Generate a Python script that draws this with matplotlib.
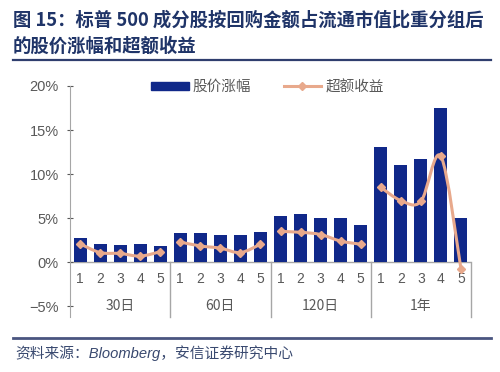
import numpy as np
import matplotlib
matplotlib.use("Agg")
import matplotlib.pyplot as plt
from matplotlib.path import Path
import matplotlib.patches as mpatches
from matplotlib.lines import Line2D

plt.rcParams['font.family'] = ['Liberation Sans', 'Noto Sans CJK SC', 'DejaVu Sans']

groups = ['30日', '60日', '120日', '1年']
sub_labels = ['1', '2', '3', '4', '5']
price_change = [2.7, 2.1, 2.0, 2.05, 1.9,
                3.3, 3.3, 3.05, 3.05, 3.45,
                5.2, 5.5, 5.0, 5.0, 4.25,
                13.1, 11.0, 11.75, 17.45, 5.0]
excess_return = [2.1, 1.1, 1.0, 0.7, 1.2,
                 2.3, 1.85, 1.6, 1.1, 2.05,
                 3.5, 3.4, 3.15, 2.4, 2.05,
                 8.5, 7.0, 6.9, 12.0, -0.75]
yticks = [-5, 0, 5, 10, 15, 20]

BAR_C = '#102889'
LINE_C = '#E8A98C'
TEXT_C = '#595959'
NAVY = '#1F3468'


def smooth_path(xs, ys, t=0.5):
    # catmull-rom style bezier through the points (like excel "smoothed line")
    verts = [(xs[0], ys[0])]
    codes = [Path.MOVETO]
    n = len(xs)
    for i in range(n - 1):
        x0, y0 = (xs[i - 1], ys[i - 1]) if i > 0 else (xs[i], ys[i])
        x1, y1 = xs[i], ys[i]
        x2, y2 = xs[i + 1], ys[i + 1]
        x3, y3 = (xs[i + 2], ys[i + 2]) if i + 2 < n else (x2, y2)
        c1 = (x1 + (x2 - x0) * t / 3, y1 + (y2 - y0) * t / 3)
        c2 = (x2 - (x3 - x1) * t / 3, y2 - (y3 - y1) * t / 3)
        verts += [c1, c2, (x2, y2)]
        codes += [Path.CURVE4] * 3
    return Path(verts, codes)


fig = plt.figure(figsize=(5.0, 3.72), dpi=100)
ax = fig.add_axes([0.14, 0.148, 0.802, 0.621])

x = np.arange(len(price_change))
ax.bar(x, price_change, width=0.65, color=BAR_C, zorder=2)

for g in range(len(groups)):
    xs = x[g * 5:(g + 1) * 5]
    ys = excess_return[g * 5:(g + 1) * 5]
    ax.add_patch(mpatches.PathPatch(smooth_path(xs, ys), fill=False,
                                    edgecolor=LINE_C, lw=2.2, zorder=3))
    ax.plot(xs, ys, 'D', color=LINE_C, ms=4.5, zorder=4)

ax.set_xlim(-0.5, 19.5)
ax.set_ylim(-6.2, 20)
ax.axhline(0, color='#A6A6A6', lw=1, zorder=1)

# category axis drawn by hand below the zero line
for i, lab in enumerate(sub_labels * len(groups)):
    ax.text(i, -1.9, lab, ha='center', va='center', fontsize=10, color=TEXT_C)
for g, lab in enumerate(groups):
    ax.text(g * 5 + 2, -5.0, lab, ha='center', va='center', fontsize=10,
            color=TEXT_C, family=['Noto Sans CJK SC'])
for sx in [4.5, 9.5, 14.5, 19.5]:
    ax.plot([sx, sx], [0, -6.2], color='#A6A6A6', lw=1, clip_on=False)

ax.set_xticks([])
ax.set_yticks(yticks)
ax.set_yticklabels(['\u22125%', '0%', '5%', '10%', '15%', '20%'])
ax.tick_params(axis='y', labelsize=10.5, colors=TEXT_C, length=4, direction='inout', pad=6)
for s in ['top', 'right', 'bottom']:
    ax.spines[s].set_visible(False)
ax.spines['left'].set_color('#A6A6A6')

handles = [mpatches.Patch(color=BAR_C, label='股价涨幅'),
           Line2D([0], [0], color=LINE_C, lw=2.2, marker='D', ms=4.5, label='超额收益')]
leg = fig.legend(handles=handles, loc='center', bbox_to_anchor=(0.535, 0.766), ncol=2,
                 frameon=False, handlelength=2.6, handleheight=0.55,
                 columnspacing=2.2, handletextpad=0.3,
                 prop={'family': 'Noto Sans CJK SC', 'size': 10.5})
for t in leg.get_texts():
    t.set_color(TEXT_C)

# title and rules
fig.text(0.026, 0.945, '图 15：标普 500 成分股按回购金额占流通市值比重分组后',
         fontsize=13.2, fontweight='bold', color=NAVY, va='center',
         family=['Noto Sans CJK SC'])
fig.text(0.026, 0.877, '的股价涨幅和超额收益',
         fontsize=13.2, fontweight='bold', color=NAVY, va='center',
         family=['Noto Sans CJK SC'])
fig.add_artist(Line2D([0.026, 0.982], [0.84, 0.84], color='#2F3E6E', lw=1.6))
fig.add_artist(Line2D([0.026, 0.982], [0.092, 0.092], color='#4A5580', lw=2))
fig.text(0.03, 0.052, '资料来源：Bloomberg，安信证券研究中心', fontsize=10.6, style='italic',
         color='#3A4A70', va='center', family=['Liberation Sans', 'Noto Sans CJK SC'])

fig.savefig('out.png', dpi=100)
